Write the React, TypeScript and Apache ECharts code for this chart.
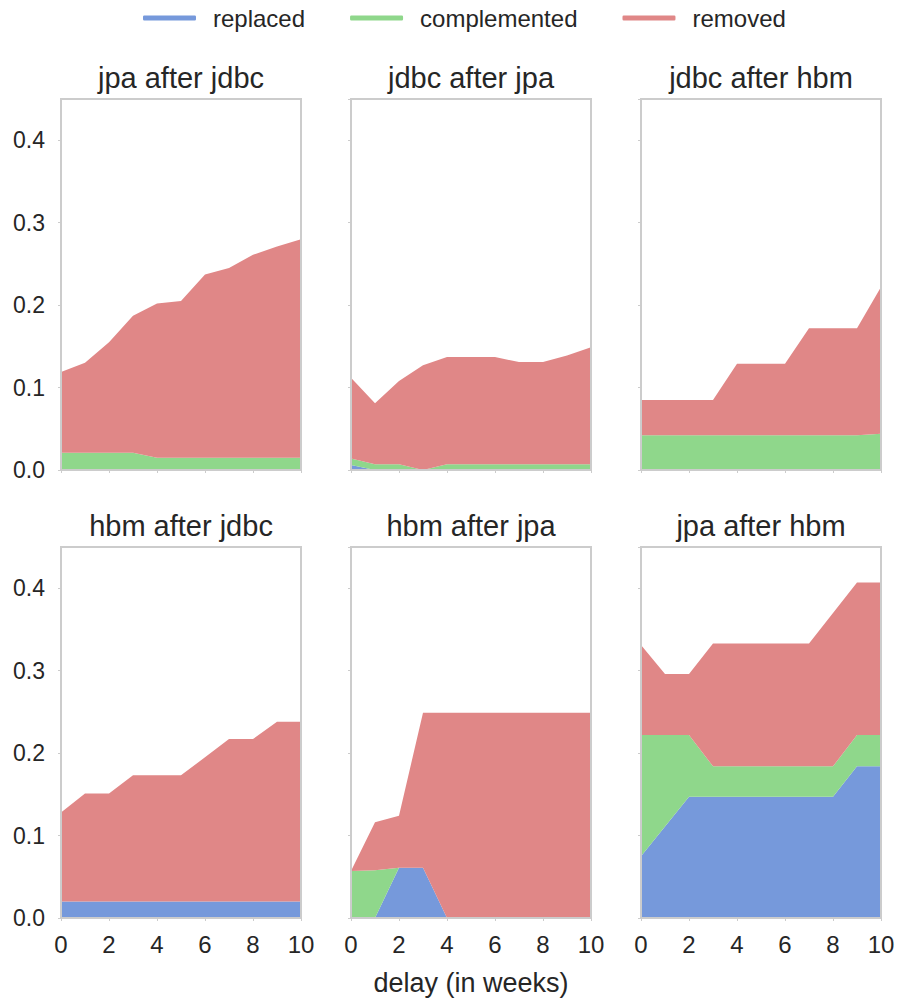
import React, { useEffect, useRef } from "react";
import * as echarts from "echarts";

const seriesNames = ["replaced", "complemented", "removed"];
const seriesColors = ["#7699DB", "#8FD78B", "#E08787"];
const weeks = ["0", "1", "2", "3", "4", "5", "6", "7", "8", "9", "10"];
const panelTitles = [
  "jpa after jdbc",
  "jdbc after jpa",
  "jdbc after hbm",
  "hbm after jdbc",
  "hbm after jpa",
  "jpa after hbm",
];

// jpa after jdbc
const p1Replaced = [0, 0, 0, 0, 0, 0, 0, 0, 0, 0, 0];
const p1Complemented = [0.021, 0.021, 0.021, 0.021, 0.015, 0.015, 0.015, 0.015, 0.015, 0.015, 0.015];
const p1Removed = [0.098, 0.109, 0.134, 0.166, 0.187, 0.19, 0.222, 0.23, 0.246, 0.256, 0.265];
// jdbc after jpa
const p2Replaced = [0.006, 0, 0, 0, 0, 0, 0, 0, 0, 0, 0];
const p2Complemented = [0.008, 0.007, 0.007, 0, 0.007, 0.007, 0.007, 0.007, 0.007, 0.007, 0.007];
const p2Removed = [0.098, 0.074, 0.101, 0.127, 0.13, 0.13, 0.13, 0.124, 0.124, 0.132, 0.142];
// jdbc after hbm
const p3Replaced = [0, 0, 0, 0, 0, 0, 0, 0, 0, 0, 0];
const p3Complemented = [0.042, 0.042, 0.042, 0.042, 0.042, 0.042, 0.042, 0.042, 0.042, 0.042, 0.044];
const p3Removed = [0.043, 0.043, 0.043, 0.043, 0.087, 0.087, 0.087, 0.13, 0.13, 0.13, 0.178];
// hbm after jdbc
const p4Replaced = [0.02, 0.02, 0.02, 0.02, 0.02, 0.02, 0.02, 0.02, 0.02, 0.02, 0.02];
const p4Complemented = [0, 0, 0, 0, 0, 0, 0, 0, 0, 0, 0];
const p4Removed = [0.108, 0.131, 0.131, 0.153, 0.153, 0.153, 0.175, 0.197, 0.197, 0.218, 0.218];
// hbm after jpa
const p5Replaced = [0, 0, 0.061, 0.061, 0, 0, 0, 0, 0, 0, 0];
const p5Complemented = [0.057, 0.058, 0, 0, 0, 0, 0, 0, 0, 0, 0];
const p5Removed = [0, 0.058, 0.063, 0.188, 0.249, 0.249, 0.249, 0.249, 0.249, 0.249, 0.249];
// jpa after hbm
const p6Replaced = [0.075, 0.111, 0.147, 0.147, 0.147, 0.147, 0.147, 0.147, 0.147, 0.184, 0.184];
const p6Complemented = [0.147, 0.111, 0.075, 0.037, 0.037, 0.037, 0.037, 0.037, 0.037, 0.038, 0.038];
const p6Removed = [0.109, 0.074, 0.074, 0.149, 0.149, 0.149, 0.149, 0.149, 0.186, 0.185, 0.185];

const panels = [
  [p1Replaced, p1Complemented, p1Removed],
  [p2Replaced, p2Complemented, p2Removed],
  [p3Replaced, p3Complemented, p3Removed],
  [p4Replaced, p4Complemented, p4Removed],
  [p5Replaced, p5Complemented, p5Removed],
  [p6Replaced, p6Complemented, p6Removed],
];

const yTicks = [0, 0.1, 0.2, 0.3, 0.4];
const xLabel = "delay (in weeks)";

const FONT = "Liberation Sans, Arial, sans-serif";
const TEXT = "#262626";
const FRAME = "#cccccc";

export default function App() {
  const ref = useRef<HTMLDivElement>(null);
  useEffect(() => {
    if (!ref.current) return;
    const chart = echarts.init(ref.current, null, { renderer: "svg" });
    const colLeft = [61, 351, 641];
    const plotW = 240;
    const rowTop = [99, 547];
    const plotH = 371;
    const grids: any[] = [];
    const xAxes: any[] = [];
    const yAxes: any[] = [];
    const series: any[] = [];
    const graphics: any[] = [];
    panels.forEach((panel, i) => {
      const r = Math.floor(i / 3);
      const c = i % 3;
      grids.push({
        left: colLeft[c],
        top: rowTop[r],
        width: plotW,
        height: plotH,
        show: true,
        borderColor: FRAME,
        borderWidth: 2,
        backgroundColor: "transparent",
        z: 10,
      });
      xAxes.push({
        type: "category",
        gridIndex: i,
        data: weeks,
        boundaryGap: false,
        axisLine: { show: false },
        axisTick: { show: true, interval: 1, length: 3, lineStyle: { color: FRAME, width: 1 } },
        splitLine: { show: false },
        axisLabel: {
          show: r === 1,
          interval: 1,
          margin: 14,
          fontSize: 24,
          fontFamily: FONT,
          color: TEXT,
        },
      });
      yAxes.push({
        type: "value",
        gridIndex: i,
        min: 0,
        max: 0.45,
        interval: 0.1,
        axisLine: { show: false },
        axisTick: { show: true, length: 3, lineStyle: { color: FRAME, width: 1 } },
        splitLine: { show: false },
        axisLabel: {
          show: c === 0,
          showMaxLabel: false,
          margin: 16,
          fontSize: 23,
          fontFamily: FONT,
          color: TEXT,
          formatter: (v: number) => (yTicks.some((t) => Math.abs(t - v) < 1e-9) ? v.toFixed(1) : ""),
        },
      });
      panel.forEach((vals, k) => {
        series.push({
          name: seriesNames[k],
          type: "line",
          xAxisIndex: i,
          yAxisIndex: i,
          stack: "s" + i,
          symbol: "none",
          showSymbol: false,
          lineStyle: { width: 0, opacity: 0 },
          areaStyle: { color: seriesColors[k], opacity: 1 },
          itemStyle: { color: seriesColors[k] },
          data: vals,
          z: 2,
        });
      });
      graphics.push({
        type: "text",
        x: colLeft[c] + plotW / 2,
        y: rowTop[r] - 7,
        style: {
          text: panelTitles[i],
          font: `29px ${FONT}`,
          fill: TEXT,
          textAlign: "center",
          textVerticalAlign: "bottom",
        },
      });
    });
    graphics.push({
      type: "text",
      x: colLeft[1] + plotW / 2,
      y: 983,
      style: {
        text: xLabel,
        font: `27px ${FONT}`,
        fill: TEXT,
        textAlign: "center",
        textVerticalAlign: "middle",
      },
    });
    chart.setOption({
      animation: false,
      backgroundColor: "#ffffff",
      legend: {
        data: seriesNames.map((n, k) => ({ name: n, itemStyle: { color: seriesColors[k] } })),
        left: 138,
        top: 1,
        icon: "roundRect",
        itemWidth: 53,
        itemHeight: 5,
        itemGap: 45,
        textStyle: { fontSize: 24, fontFamily: FONT, color: TEXT, padding: [0, 0, 0, 12] },
      },
      grid: grids,
      xAxis: xAxes,
      yAxis: yAxes,
      series,
      graphic: graphics,
    });
    return () => chart.dispose();
  }, []);
  return (
    <div
      ref={ref}
      style={{ position: "absolute", left: 0, top: 0, width: 899, height: 998 }}
    />
  );
}
